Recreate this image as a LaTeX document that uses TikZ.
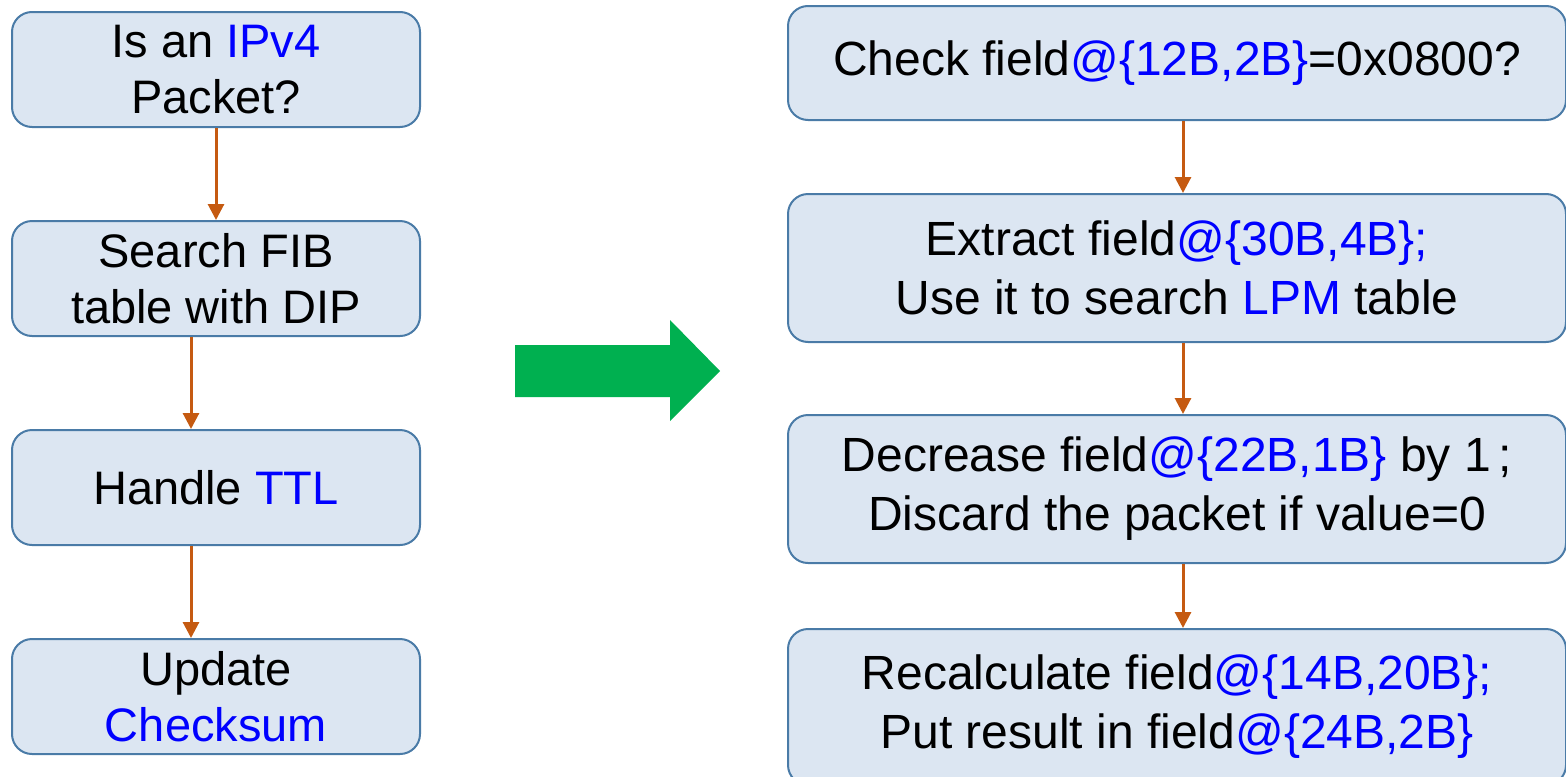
\documentclass[tikz,border=0pt]{standalone}
\usepackage{fontspec}
\setmainfont{Liberation Sans}
\usetikzlibrary{positioning}
\usetikzlibrary{arrows.meta}
\definecolor{boxfill}{HTML}{DCE6F2}
\definecolor{boxline}{HTML}{4A7BA7}
\definecolor{flowline}{HTML}{C55A11}
\definecolor{bigarrow}{HTML}{00B050}
\newcommand{\hl}[1]{\textcolor{blue}{#1}}
\begin{document}
\begin{tikzpicture}[
        x=0.5pt, y=-0.5pt,
        stepbox/.style={
            rectangle,
            draw=boxline,
            fill=boxfill,
            line width=1pt,
            rounded corners=10pt,
            align=center
        },
        leftbox/.style={
            stepbox,
            minimum width=204pt,
            minimum height=57.5pt,
            font=\fontsize{23.5}{28}\selectfont
        },
        rightbox/.style={
            stepbox,
            minimum width=389pt,
            minimum height=74pt,
            font=\fontsize{24}{29.5}\selectfont
        },
        arrow/.style={
            -{Triangle[length=8pt,width=8pt]},
            draw=flowline,
            fill=flowline,
            line width=1.5pt
        }
    ]
    \useasboundingbox (0,0) rectangle (1566,776);

    % Nodes (before)
    \node[leftbox] (ipv4) at (216,69.5) {Is an \hl{IPv4}\\Packet?};
    \node[leftbox, below=46pt of ipv4] (fib) {Search FIB\\table with DIP};
    \node[leftbox, below=46pt of fib] (ttl) {Handle \hl{TTL}};
    \node[leftbox, below=46pt of ttl] (csum) {Update\\\hl{Checksum}};

    % Nodes (after)
    \node[rightbox, minimum height=57pt] (check) at (1177,63) {Check field\hl{@\{12B,2B\}}=0x0800?};
    \node[rightbox, below=36pt of check] (lpm) {Extract field\hl{@\{30B,4B\};}\\Use it to search \hl{LPM} table};
    \node[rightbox, below=35.5pt of lpm] (dec) {Decrease field\hl{@\{22B,1B\}} by 1\,;\\Discard the packet if value=0};
    \node[rightbox, below=32pt of dec, minimum height=78pt] (recalc) {Recalculate field\hl{@\{14B,20B\};}\\Put result in field\hl{@\{24B,2B\}}};

    % Arrows
    \draw[arrow] (ipv4) -- (fib);
    \draw[arrow] ([xshift=-12.5pt]fib.south) -- ([xshift=-12.5pt]ttl.north);
    \draw[arrow] ([xshift=-12.5pt]ttl.south) -- ([xshift=-12.5pt]csum.north);
    \draw[arrow] ([xshift=3pt]check.south) -- ([xshift=3pt]lpm.north);
    \draw[arrow] ([xshift=3pt]lpm.south) -- ([xshift=3pt]dec.north);
    \draw[arrow] ([xshift=3pt]dec.south) -- ([xshift=3pt]recalc.north);

    % Big arrow
    \fill[bigarrow] (515,345) -- (670,345) -- (670,320) -- (720,371)
        -- (670,421) -- (670,397) -- (515,397) -- cycle;

    \end{tikzpicture}
\end{document}
